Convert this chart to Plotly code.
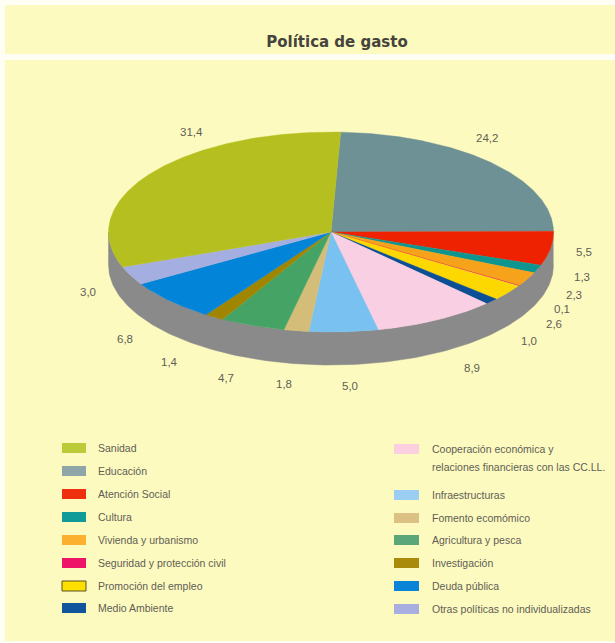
import numpy as np
import plotly.graph_objects as go

# ---- data ----
categories = ["Educación", "Atención Social", "Cultura", "Vivienda y urbanismo",
              "Seguridad y protección civil", "Promoción del empleo", "Medio Ambiente",
              "Cooperación económica y relaciones financieras con las CC.LL.",
              "Infraestructuras", "Fomento ecomómico", "Agricultura y pesca",
              "Investigación", "Deuda pública", "Otras políticas no individualizadas",
              "Sanidad"]
values = [24.2, 5.5, 1.3, 2.3, 0.1, 2.6, 1.0, 8.9, 5.0, 1.8, 4.7, 1.4, 6.8, 3.0, 31.4]
value_labels = ["24,2", "5,5", "1,3", "2,3", "0,1", "2,6", "1,0", "8,9", "5,0", "1,8",
                "4,7", "1,4", "6,8", "3,0", "31,4"]
colors = ["#6e9196", "#ee2200", "#0f9590", "#f6a21a", "#e8105a", "#fdd800", "#0c4f96",
          "#f9cfe3", "#78c1f0", "#d4bd78", "#45a366", "#a08600", "#0284d8", "#a5aee0",
          "#b5c020"]
label_xy = [(487, 138), (584, 252), (582, 277), (574, 295), (562, 309), (554, 324),
            (529, 341), (472, 368), (350, 386), (284, 384), (226, 378), (169, 362),
            (125, 339), (88, 292), (191, 132)]

legend_left = [("Sanidad", "#bccb3a", 448), ("Educación", "#8fa5a8", 471),
               ("Atención Social", "#ee2f10", 494), ("Cultura", "#109a98", 517),
               ("Vivienda y urbanismo", "#fbb02f", 540),
               ("Seguridad y protección civil", "#ee1468", 563),
               ("Promoción del empleo", "#fde000", 586), ("Medio Ambiente", "#10559c", 608)]
legend_right = [("Cooperación económica y", "#fbcfe0", 449),
                ("Infraestructuras", "#9ccdf2", 495), ("Fomento ecomómico", "#dcc184", 518),
                ("Agricultura y pesca", "#5ba77a", 540), ("Investigación", "#a98a0a", 563),
                ("Deuda pública", "#0a84d6", 586),
                ("Otras políticas no individualizadas", "#a9aee0", 609)]
legend_extra_line = ("relaciones financieras con las CC.LL.", 467)

# ---- geometry ----
CX, CY, RX, RY, DEPTH = 331, 232, 222.5, 100, 33
START_DEG = 2.5
BG, PAGE, TXT = "#fdfabf", "#fffef4", "#5e5e56"


def ell(theta):
    return CX + RX * np.sin(theta), CY - RY * np.cos(theta)


fig = go.Figure()

# side wall
t = np.radians(np.linspace(90, 270, 181))
x, y = ell(t)
fig.add_trace(go.Scatter(
    x=np.r_[x, x[::-1]], y=np.r_[y, y[::-1] + DEPTH], mode="lines", fill="toself",
    fillcolor="#8a8a8a", line=dict(color="#8a8a8a", width=0.5), hoverinfo="skip", showlegend=False))

# slices
total = sum(values)
ang = np.radians(START_DEG)
for name, v, c in zip(categories, values, colors):
    span = v / total * 2 * np.pi
    t = np.linspace(ang, ang + span, max(3, int(v * 8)))
    x, y = ell(t)
    fig.add_trace(go.Scatter(
        x=np.r_[CX, x, CX], y=np.r_[CY, y, CY], mode="lines", fill="toself", fillcolor=c,
        line=dict(color=c, width=0.4), name=name, text=f"{v}", hoverinfo="name+text", showlegend=False))
    ang += span

annotations = []
for lab, (lx, ly) in zip(value_labels, label_xy):
    annotations.append(dict(x=lx, y=ly, text=lab, showarrow=False,
                            font=dict(size=11.5, color=TXT)))

shapes = [
    dict(type="rect", x0=5, x1=615, y0=5, y1=54, fillcolor=BG, line_width=0, layer="below"),
    dict(type="rect", x0=5, x1=615, y0=60, y1=641, fillcolor=BG, line_width=0, layer="below"),
]


def legend_text(lab, tx, yc):
    annotations.append(dict(x=tx, y=yc, text=lab, xanchor="left", align="left",
                            showarrow=False, font=dict(size=10.5, color=TXT)))


def add_legend(items, sx0, sx1, tx):
    for lab, c, yc in items:
        outline = dict(color="#5a5020", width=1) if lab.startswith("Promoción") else dict(width=0)
        shapes.append(dict(type="rect", x0=sx0, x1=sx1, y0=yc - 5, y1=yc + 5,
                           fillcolor=c, line=outline))
        legend_text(lab, tx, yc)


add_legend(legend_left, 62, 86, 96)
add_legend(legend_right, 394, 419, 430)
legend_text(legend_extra_line[0], 430, legend_extra_line[1])

fig.update_layout(
    width=615, height=643, margin=dict(l=0, r=0, t=0, b=0), autosize=False,
    paper_bgcolor=PAGE, plot_bgcolor=PAGE, showlegend=False,
    title=dict(text="<b>Política de gasto</b>", x=337 / 615, xanchor="center", xref="paper",
               y=1 - 42 / 643, yanchor="middle", yref="container",
               font=dict(family="DejaVu Sans", size=15, color="#44443c")),
    font=dict(family="Liberation Sans"),
    xaxis=dict(range=[0, 615], visible=False, fixedrange=True),
    yaxis=dict(range=[643, 0], visible=False, fixedrange=True),
    shapes=shapes, annotations=annotations,
)
fig.write_html("out.html", config=dict(displayModeBar=False),
               post_script="document.body.style.margin='0';document.body.style.overflow='hidden';")
